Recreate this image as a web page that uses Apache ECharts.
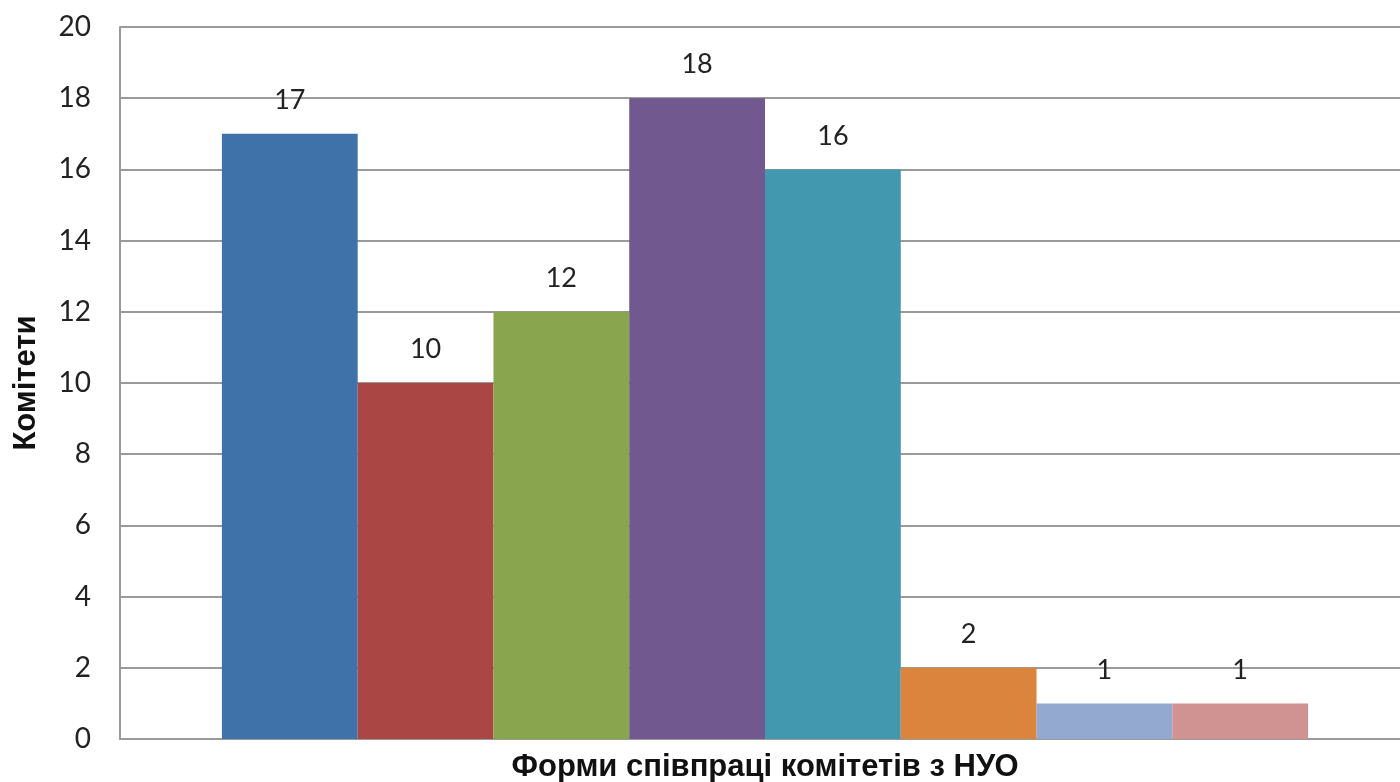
<!DOCTYPE html>
<html>
<head>
<meta charset="utf-8">
<script src="https://cdn.jsdelivr.net/npm/echarts@6/dist/echarts.min.js"></script>
<style>
  html, body { margin: 0; padding: 0; background: #fff; }
  #chart { width: 1400px; height: 782px; }
</style>
</head>
<body>
<div id="chart"></div>
<script>
// Number of committees per form of cooperation with NGOs
const categories = ['Форми співпраці комітетів з НУО'];
const values = [17, 10, 12, 18, 16, 2, 1, 1];
const colors = ['#3f72a8', '#aa4643', '#89a54e', '#71588f', '#4198af', '#db843d', '#93a9cf', '#d19392'];
const yTicks = { min: 0, max: 20, interval: 2 };

const chart = echarts.init(document.getElementById('chart'));

const series = values.map((v, i) => ({
  type: 'bar',
  data: [v],
  barGap: '0%',
  barCategoryGap: '15.8%',
  itemStyle: { color: colors[i] },
  label: {
    show: true,
    position: 'top',
    distance: 20,
    color: '#222',
    fontFamily: 'Lato',
    fontSize: 27
  },
  emphasis: { disabled: true }
}));

chart.setOption({
  animation: false,
  grid: { left: 120, right: -10, top: 27, bottom: 43, containLabel: false, outerBoundsMode: 'none' },
  xAxis: {
    type: 'category',
    data: categories,
    axisLine: { lineStyle: { color: '#9a9a9a', width: 2 } },
    axisTick: { show: false },
    axisLabel: { show: false },
    name: categories[0],
    nameLocation: 'middle',
    nameGap: 13,
    nameTextStyle: { fontFamily: 'Liberation Sans', fontWeight: 'bold', fontSize: 31, color: '#111' }
  },
  yAxis: {
    type: 'value',
    min: yTicks.min,
    max: yTicks.max,
    interval: yTicks.interval,
    axisLine: { show: true, lineStyle: { color: '#9a9a9a', width: 2 } },
    axisTick: { show: false },
    splitLine: { lineStyle: { color: '#9a9a9a', width: 2 } },
    axisLabel: { color: '#222', fontFamily: 'Lato', fontSize: 28, margin: 29 },
    name: 'Комітети',
    nameLocation: 'middle',
    nameRotate: 90,
    nameGap: 78,
    nameTextStyle: { fontFamily: 'Liberation Sans', fontWeight: 'bold', fontSize: 31, color: '#111' }
  },
  series: series
});
</script>
</body>
</html>
